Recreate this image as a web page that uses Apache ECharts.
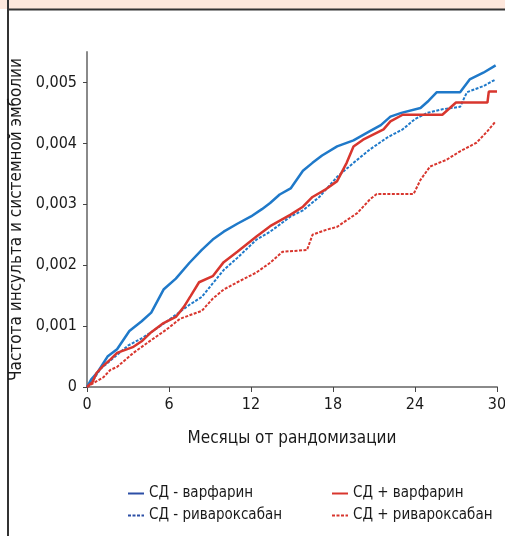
<!DOCTYPE html>
<html>
<head>
<meta charset="utf-8">
<script src="https://cdn.jsdelivr.net/npm/echarts@6/dist/echarts.min.js"></script>
<style>
  html, body { margin: 0; padding: 0; background: #fff; }
  #chart { width: 505px; height: 536px; }
</style>
</head>
<body>
<div id="chart"></div>
<script>
// Cumulative rate of stroke / systemic embolism by month since randomisation
const xTicks = [0, 6, 12, 18, 24, 30];
const yTicks = [0, 0.001, 0.002, 0.003, 0.004, 0.005];

const seriesNames = ['СД - варфарин', 'СД - ривароксабан', 'СД + варфарин', 'СД + ривароксабан'];

const noDmWarfarin = [
  [0, 0], [0.3, 0.00012], [0.8, 0.00025], [1.5, 0.0005], [2.2, 0.00062], [3.1, 0.00092],
  [4, 0.00108], [4.7, 0.00122], [5.6, 0.0016], [6.5, 0.00178], [7.5, 0.00204], [8.4, 0.00225],
  [9.2, 0.00242], [10, 0.00255], [11, 0.00268], [12, 0.0028], [12.8, 0.00292], [13.4, 0.00302],
  [14.1, 0.00316], [14.9, 0.00326], [15.8, 0.00355], [16.5, 0.00368], [17.2, 0.0038], [18.3, 0.00395],
  [19.5, 0.00405], [20.7, 0.0042], [21.5, 0.0043], [22.2, 0.00444], [23, 0.0045], [24.4, 0.00458],
  [25, 0.0047], [25.6, 0.00484], [27.3, 0.00484], [28, 0.00505], [29, 0.00516], [29.9, 0.00528]
];

const noDmRivaroxaban = [
  [0, 0], [0.5, 0.00013], [1, 0.0003], [2, 0.00049], [3, 0.00068], [4, 0.0008], [4.7, 0.0009],
  [5.8, 0.00107], [7.5, 0.00135], [8.4, 0.00148], [9.2, 0.0017], [10, 0.00192], [11, 0.00212],
  [12.4, 0.00242], [13.4, 0.00255], [14.9, 0.0028], [15.8, 0.0029], [17, 0.00312], [18.3, 0.00345],
  [19.5, 0.00368], [20.7, 0.0039], [22, 0.0041], [23.1, 0.00423], [24, 0.0044], [24.9, 0.0045],
  [26, 0.00456], [27.3, 0.0046], [27.8, 0.00484], [29, 0.00494], [29.9, 0.00505]
];

const dmWarfarin = [
  [0, 0], [0.4, 0.00008], [0.7, 0.00023], [1.2, 0.00035], [1.7, 0.00045], [2.2, 0.00056],
  [3.4, 0.00066], [4, 0.00075], [4.7, 0.0009], [5.6, 0.00105], [6.5, 0.00115], [7.1, 0.00132],
  [7.6, 0.0015], [8.2, 0.00172], [9.2, 0.00182], [10, 0.00205], [11, 0.00222], [12.4, 0.00247],
  [13.4, 0.00264], [14.9, 0.00283], [15.8, 0.00296], [16.5, 0.00312], [17.5, 0.00325], [18.3, 0.00338],
  [19, 0.00368], [19.5, 0.00395], [20.2, 0.00406], [21.7, 0.00423], [22.2, 0.00436], [23.1, 0.00447],
  [26, 0.00447], [27, 0.00467], [29.3, 0.00467], [29.4, 0.00485], [30, 0.00485]
];

const dmRivaroxaban = [
  [0, 0], [0.5, 0.00007], [1.2, 0.00016], [1.7, 0.00028], [2.2, 0.00033], [3.4, 0.00056],
  [4.7, 0.00077], [5.8, 0.00094], [6.8, 0.00112], [8.4, 0.00125], [9.2, 0.00145], [10, 0.0016],
  [11, 0.00172], [12.4, 0.00188], [13.4, 0.00204], [13.9, 0.00214], [14.3, 0.00222], [16.1, 0.00225],
  [16.5, 0.0025], [17.5, 0.00258], [18.3, 0.00263], [19.8, 0.00286], [20.7, 0.00308], [21.2, 0.00317],
  [23.9, 0.00317], [24.4, 0.0034], [25.1, 0.00362], [26.3, 0.00373], [27.3, 0.00387], [28.5, 0.00401],
  [29.3, 0.0042], [29.9, 0.00436]
];

const BLUE = '#1f79c9';
const RED = '#d8362e';
const LEGEND_BLUE = '#2c4fa6';
const FONT = "'DejaVu Sans Condensed', 'Liberation Sans Narrow', 'Noto Sans', sans-serif";

const chart = echarts.init(document.getElementById('chart'), null, { renderer: 'canvas' });

function lineSeries(name, data, color, dotted) {
  return {
    name: name,
    type: 'line',
    data: data,
    showSymbol: false,
    symbol: 'none',
    smooth: false,
    lineStyle: { color: color, width: dotted ? 2 : 2.5, type: dotted ? [3, 1.5] : 'solid' },
    itemStyle: { color: color },
    z: dotted ? 2 : 3
  };
}

const legendText = { fontFamily: FONT, fontSize: 15, color: '#1a1a1a' };
// hide the marker dot so the legend shows only the line sample
const noMarker = { color: 'rgba(0,0,0,0)', borderWidth: 0, opacity: 0 };

chart.setOption({
  animation: false,
  backgroundColor: '#fff',
  textStyle: { fontFamily: FONT },
  graphic: [
    { type: 'rect', shape: { x: 0, y: 0, width: 505, height: 9 }, style: { fill: '#fde7dc' }, silent: true },
    { type: 'line', shape: { x1: 8, y1: 9.5, x2: 505, y2: 9.5 }, style: { stroke: '#333', lineWidth: 2 }, silent: true },
    { type: 'line', shape: { x1: 8, y1: 0, x2: 8, y2: 536 }, style: { stroke: '#333', lineWidth: 2 }, silent: true }
  ],
  grid: { left: 87, right: 8, top: 52, bottom: 149, containLabel: false, outerBoundsMode: 'none' },
  legend: [
    {
      orient: 'vertical', left: 127, top: 486, padding: 0, itemGap: 7, itemWidth: 16, itemHeight: 14,
      textStyle: legendText, itemStyle: noMarker,
      data: [
        { name: seriesNames[0], lineStyle: { color: LEGEND_BLUE } },
        { name: seriesNames[1], lineStyle: { color: LEGEND_BLUE } }
      ]
    },
    {
      orient: 'vertical', left: 331, top: 486, padding: 0, itemGap: 7, itemWidth: 16, itemHeight: 14,
      textStyle: legendText, itemStyle: noMarker,
      data: [seriesNames[2], seriesNames[3]]
    }
  ],
  xAxis: {
    type: 'value', min: 0, max: 30, interval: 6,
    name: 'Месяцы от рандомизации', nameLocation: 'middle', nameGap: 43,
    nameTextStyle: { fontSize: 17, color: '#1a1a1a', fontFamily: FONT },
    axisLine: { lineStyle: { color: '#8a8a8a', width: 2 } },
    axisTick: { show: true, length: 5, lineStyle: { color: '#444', width: 1 } },
    axisLabel: { fontSize: 16, color: '#1a1a1a', margin: 10, fontFamily: FONT },
    splitLine: { show: false }
  },
  yAxis: {
    type: 'value', min: 0, max: 0.0055,
    name: 'Частота инсульта и системной эмболии', nameLocation: 'middle', nameGap: 59,
    nameRotate: 90,
    nameTextStyle: { fontSize: 17, color: '#1a1a1a', fontFamily: FONT },
    axisLine: { show: true, lineStyle: { color: '#8a8a8a', width: 2 } },
    axisTick: { show: true, length: 4, lineStyle: { color: '#444', width: 1 }, customValues: yTicks },
    axisLabel: {
      fontSize: 16, color: '#1a1a1a', margin: 10, fontFamily: FONT,
      customValues: yTicks,
      formatter: function (v) { return v === 0 ? '0' : v.toFixed(3).replace('.', ','); }
    },
    splitLine: { show: false }
  },
  series: [
    lineSeries(seriesNames[0], noDmWarfarin, BLUE, false),
    lineSeries(seriesNames[1], noDmRivaroxaban, BLUE, true),
    lineSeries(seriesNames[2], dmWarfarin, RED, false),
    lineSeries(seriesNames[3], dmRivaroxaban, RED, true)
  ]
});
</script>
</body>
</html>
